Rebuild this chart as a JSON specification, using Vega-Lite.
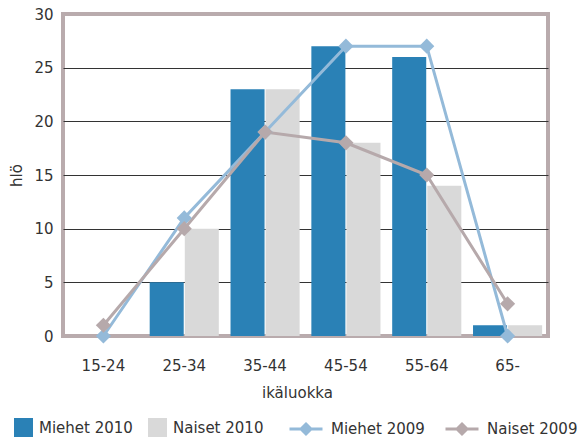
{
  "$schema": "https://vega.github.io/schema/vega-lite/v6.json",
  "width": 485,
  "height": 322,
  "autosize": "none",
  "padding": {"left": 63, "top": 14, "right": 29, "bottom": 103},
  "config": {
    "font": "DejaVu Sans",
    "view": {"stroke": "#b9abad", "strokeWidth": 4},
    "axis": {
      "domain": false,
      "ticks": false,
      "labelFontSize": 15,
      "labelColor": "#333333",
      "titleFontSize": 15,
      "titleFontWeight": "normal",
      "titleColor": "#333333"
    },
    "legend": {
      "labelFontSize": 15,
      "labelColor": "#333333",
      "padding": 0,
      "rowPadding": 0
    }
  },
  "datasets": {
    "bars": [
      {"age": "15-24", "series": "Miehet 2010", "value": 0},
      {"age": "15-24", "series": "Naiset 2010", "value": 0},
      {"age": "25-34", "series": "Miehet 2010", "value": 5},
      {"age": "25-34", "series": "Naiset 2010", "value": 10},
      {"age": "35-44", "series": "Miehet 2010", "value": 23},
      {"age": "35-44", "series": "Naiset 2010", "value": 23},
      {"age": "45-54", "series": "Miehet 2010", "value": 27},
      {"age": "45-54", "series": "Naiset 2010", "value": 18},
      {"age": "55-64", "series": "Miehet 2010", "value": 26},
      {"age": "55-64", "series": "Naiset 2010", "value": 14},
      {"age": "65-", "series": "Miehet 2010", "value": 1},
      {"age": "65-", "series": "Naiset 2010", "value": 1}
    ],
    "lines": [
      {"age": "15-24", "series": "Miehet 2009", "value": 0},
      {"age": "25-34", "series": "Miehet 2009", "value": 11},
      {"age": "35-44", "series": "Miehet 2009", "value": 19},
      {"age": "45-54", "series": "Miehet 2009", "value": 27},
      {"age": "55-64", "series": "Miehet 2009", "value": 27},
      {"age": "65-", "series": "Miehet 2009", "value": 0},
      {"age": "15-24", "series": "Naiset 2009", "value": 1},
      {"age": "25-34", "series": "Naiset 2009", "value": 10},
      {"age": "35-44", "series": "Naiset 2009", "value": 19},
      {"age": "45-54", "series": "Naiset 2009", "value": 18},
      {"age": "55-64", "series": "Naiset 2009", "value": 15},
      {"age": "65-", "series": "Naiset 2009", "value": 3}
    ]
  },
  "encoding": {
    "x": {
      "field": "age",
      "type": "nominal",
      "sort": ["15-24", "25-34", "35-44", "45-54", "55-64", "65-"],
      "scale": {"paddingInner": 0.145, "paddingOuter": 0.0725},
      "title": "ikäluokka",
      "axis": {"labelAngle": 0, "labelPadding": 22, "titlePadding": 12, "grid": false, "titleX": 234}
    },
    "y": {
      "field": "value",
      "type": "quantitative",
      "scale": {"domain": [0, 30], "nice": false},
      "title": "hlö",
      "axis": {
        "values": [0, 5, 10, 15, 20, 25, 30],
        "labelPadding": 10,
        "titlePadding": 9,
        "grid": true,
        "gridWidth": 1,
        "gridColor": {"condition": {"test": "datum.value === 0 || datum.value === 30", "value": "transparent"}, "value": "#333333"}
      }
    }
  },
  "layer": [
    {
      "data": {"name": "bars"},
      "mark": {"type": "bar"},
      "encoding": {
        "xOffset": {"field": "series", "type": "nominal", "scale": {"paddingInner": 0.03}},
        "color": {
          "field": "series",
          "type": "nominal",
          "scale": {"domain": ["Miehet 2010", "Naiset 2010"], "range": ["#2a81b6", "#d9d9d9"]},
          "legend": {
            "orient": "none",
            "legendX": -49,
            "legendY": 404,
            "direction": "horizontal",
            "title": null,
            "symbolType": "square",
            "symbolSize": 361,
            "symbolStrokeWidth": 0,
            "labelOffset": 6,
            "columnPadding": 15
          }
        }
      }
    },
    {
      "data": {"name": "lines"},
      "mark": {"type": "line", "strokeWidth": 3},
      "encoding": {
        "stroke": {
          "field": "series",
          "type": "nominal",
          "scale": {"domain": ["Miehet 2009", "Naiset 2009"], "range": ["#94bad9", "#b6a9ab"]},
          "legend": {
            "orient": "none",
            "legendX": 225,
            "legendY": 397,
            "direction": "horizontal",
            "title": null,
            "symbolType": "M-1,0L1,0M0,-0.3L0.3,0L0,0.3L-0.3,0Z",
            "symbolSize": 1089,
            "symbolStrokeWidth": 3,
            "labelOffset": 7,
            "columnPadding": 14,
            "encode": {"symbols": {"update": {"fill": {"scale": "stroke", "field": "value"}}}}
          }
        }
      }
    },
    {
      "data": {"name": "lines"},
      "mark": {"type": "point", "shape": "diamond", "filled": true, "size": 230, "opacity": 1},
      "encoding": {
        "fill": {
          "field": "series",
          "type": "nominal",
          "scale": {"domain": ["Miehet 2009", "Naiset 2009"], "range": ["#94bad9", "#b6a9ab"]},
          "legend": null
        }
      }
    }
  ]
}
